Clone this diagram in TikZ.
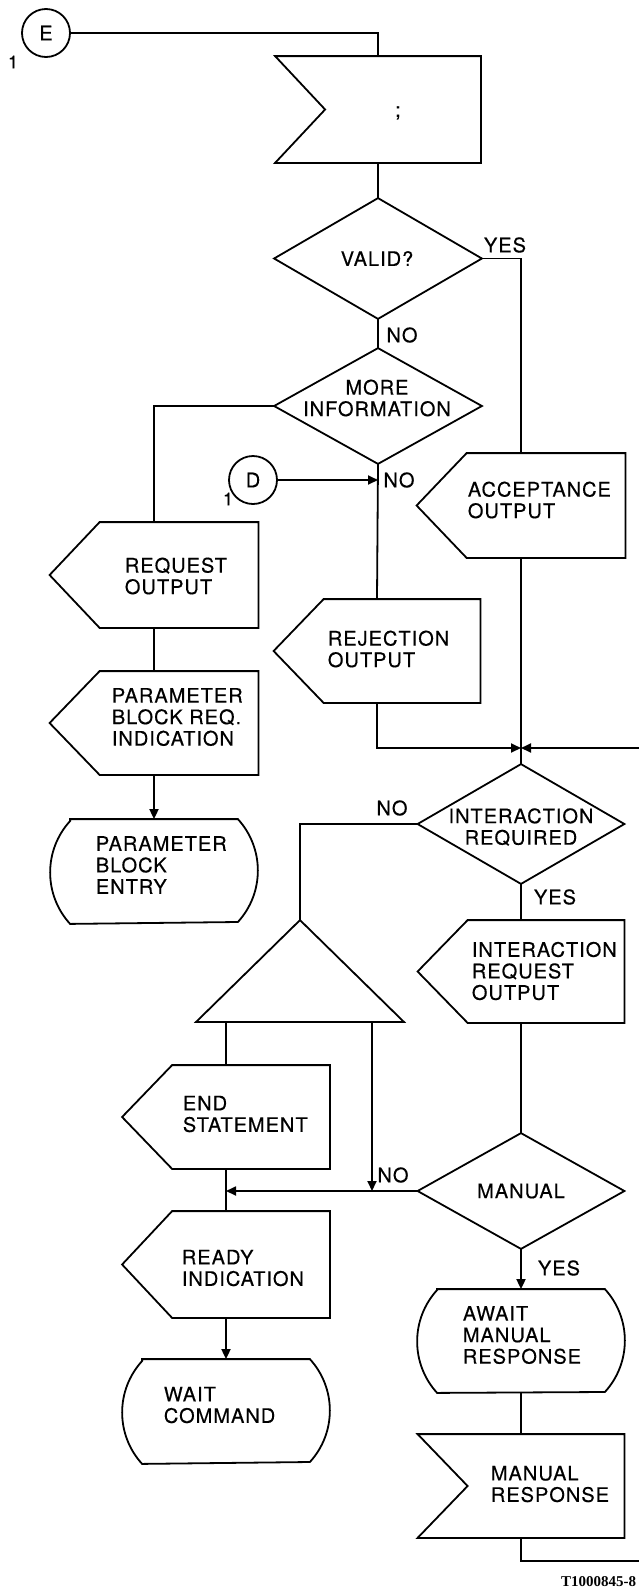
\documentclass[tikz,border=0pt]{standalone}
\usepackage{fontspec}
\setmainfont{TeX Gyre Heros}[LetterSpace=5,FakeBold=0.4]
\newfontfamily\tagfont{Liberation Serif}
\usetikzlibrary{arrows.meta,calc}
\newcommand\outshape[1]{\draw ($(#1.north west)+(50,0)$) -- (#1.north east) -- (#1.south east) -- ($(#1.south west)+(50,0)$) -- (#1.west) -- cycle;}
\newcommand\inshape[1]{\draw (#1.north west) -- (#1.north east) -- (#1.south east) -- (#1.south west) -- ($(#1.west)+(50,0)$) -- cycle;}
\newcommand\termshape[1]{\draw ($(#1.north west)+(20,0)$) -- ($(#1.north east)+(-20,0)$) arc[start angle=-42.4, end angle=42.4, radius=76.3] -- ($(#1.south west)+(20,0)$) arc[start angle=137.6, end angle=222.4, radius=76.3] -- cycle;}
\newcommand\diashape[1]{\draw (#1.north) -- (#1.east) -- (#1.south) -- (#1.west) -- cycle;}
\begin{document}
\begin{tikzpicture}[x=1pt,y=-1pt,line width=1.8pt,
  txt/.style={font=\fontsize{20}{21.5}\selectfont, inner sep=0pt, align=left},
  ctxt/.style={font=\fontsize{20}{21.5}\selectfont, inner sep=0pt, align=center},
  one/.style={font=\fontsize{18}{19}\selectfont, inner sep=0pt},
  bbx/.style={draw=none, rectangle, inner sep=0pt},
  circ/.style={draw, circle, minimum size=48pt, inner sep=0pt, font=\fontsize{20}{21.5}\selectfont},
  arr/.style={-{Triangle[length=10pt,width=9pt]}}]
\useasboundingbox (0,0) rectangle (639,1596);

% shape frames
\node[bbx, minimum width=204pt, minimum height=105pt] (inp) at (378,109.5) {};
\node[bbx, minimum width=206pt, minimum height=119pt] (valid) at (378,258.5) {};
\node[bbx, minimum width=206pt, minimum height=114pt] (more) at (378,406) {};
\node[bbx, minimum width=207pt, minimum height=104pt] (request) at (154,575) {};
\node[bbx, minimum width=207pt, minimum height=102pt] (param) at (154,723) {};
\node[bbx, minimum width=206pt, minimum height=103pt] (pbentry) at (154,871.5) {};
\node[bbx, minimum width=207pt, minimum height=103pt] (accept) at (521,505.5) {};
\node[bbx, minimum width=205pt, minimum height=102pt] (reject) at (377,651) {};
\node[bbx, minimum width=205pt, minimum height=118pt] (ir) at (521,824) {};
\node[bbx, minimum width=205pt, minimum height=101pt] (iro) at (521,971.5) {};
\node[bbx, minimum width=205pt, minimum height=114pt] (manual) at (521,1191) {};
\node[bbx, minimum width=206pt, minimum height=102pt] (await) at (521,1341) {};
\node[bbx, minimum width=205pt, minimum height=102pt] (mresp) at (521,1486) {};
\node[bbx, minimum width=206pt, minimum height=100pt] (tri) at (300,971) {};
\node[bbx, minimum width=206pt, minimum height=102pt] (endst) at (226,1117) {};
\node[bbx, minimum width=206pt, minimum height=105pt] (ready) at (226,1264.5) {};
\node[bbx, minimum width=206pt, minimum height=103pt] (wait) at (226,1411.5) {};

% outlines
\inshape{inp}
\diashape{valid}
\diashape{more}
\outshape{request}
\outshape{param}
\termshape{pbentry}
\outshape{accept}
\outshape{reject}
\diashape{ir}
\outshape{iro}
\diashape{manual}
\termshape{await}
\inshape{mresp}
\draw (tri.north) -- (tri.south east) -- (tri.south west) -- cycle;
\outshape{endst}
\outshape{ready}
\termshape{wait}

% texts
\node[ctxt] (t-semi) at (398,113) {;};
\node[ctxt] (t-valid) at (377,258.5) {VALID?};
\node[ctxt] (t-more) at (377,398) {MORE\\INFORMATION};
\node[txt, anchor=west] (t-request) at (124,576) {REQUEST\\OUTPUT};
\node[txt, anchor=west] (t-param) at (111,717) {PARAMETER\\BLOCK REQ.\\INDICATION};
\node[txt, anchor=west] (t-pbentry) at (95,865) {PARAMETER\\BLOCK\\ENTRY};
\node[txt, anchor=west] (t-accept) at (467,500) {ACCEPTANCE\\OUTPUT};
\node[txt, anchor=west] (t-reject) at (327,649) {REJECTION\\OUTPUT};
\node[ctxt] (t-ir) at (521,827) {INTERACTION\\REQUIRED};
\node[txt, anchor=west] (t-iro) at (471,971) {INTERACTION\\REQUEST\\OUTPUT};
\node[ctxt] (t-manual) at (521,1191) {MANUAL};
\node[txt, anchor=west] (t-await) at (462,1335) {AWAIT\\MANUAL\\RESPONSE};
\node[txt, anchor=west] (t-mresp) at (490,1484) {MANUAL\\RESPONSE};
\node[txt, anchor=west] (t-endst) at (182,1114) {END\\STATEMENT};
\node[txt, anchor=west] (t-ready) at (181,1268) {READY\\INDICATION};
\node[txt, anchor=west] (t-wait) at (163,1405) {WAIT\\COMMAND};

% branch labels
\node[ctxt] (l-yes1) at (505,245) {YES};
\node[ctxt] (l-no1) at (402,335) {NO};
\node[ctxt] (l-no2) at (399,480) {NO};
\node[ctxt] (l-no3) at (392,808) {NO};
\node[ctxt] (l-yes2) at (555,897) {YES};
\node[ctxt] (l-no4) at (393,1175) {NO};
\node[ctxt] (l-yes3) at (559,1268) {YES};

% connectors (circles)
\node[circ] (E) at (46,33) {E};
\node[one] (E1) at (13,62) {1};
\node[circ] (D) at (253,480) {D};
\node[one] (D1) at (228,499) {1};

\coordinate (merge) at (521,748);
\coordinate (redge1) at (639,748);
\coordinate (redge2) at (639,1561);
\coordinate (trd) at (372,1021);

\draw (E.east) -| (inp.north);
\draw (inp.south) -- (valid.north);
\draw (valid.east) -| (accept.north);
\draw (valid.south) -- (more.north);
\draw (more.west) -| (request.north);
\draw (more.south) -- (reject.north);
\draw[arr] (D.east) -- (D.east -| more.south);
\draw (request.south) -- (param.north);
\draw[arr] (param.south) -- (pbentry.north);
\draw[arr] (reject.south) |- (merge);
\draw[arr] (redge1) -- (merge);
\draw (accept.south) -- (merge) -- (ir.north);
\draw (ir.west) -| (tri.north);
\draw (ir.south) -- (iro.north);
\draw (iro.south) -- (manual.north);
\draw[arr] (manual.south) -- (await.north);
\draw (await.south) -- (mresp.north);
\draw (mresp.south) |- (redge2);
\draw (endst.north |- tri.south) -- (endst.north);
\draw[arr] (trd) -- (trd |- manual.west);
\draw[arr] (manual.west) -- (manual.west -| ready.north);
\draw (endst.south) -- (ready.north);
\draw[arr] (ready.south) -- (wait.north);

\node[font=\tagfont\bfseries\fontsize{15}{16}\selectfont, anchor=east, inner sep=0pt] (tag) at (637,1582) {T1000845-8};
\end{tikzpicture}
\end{document}
